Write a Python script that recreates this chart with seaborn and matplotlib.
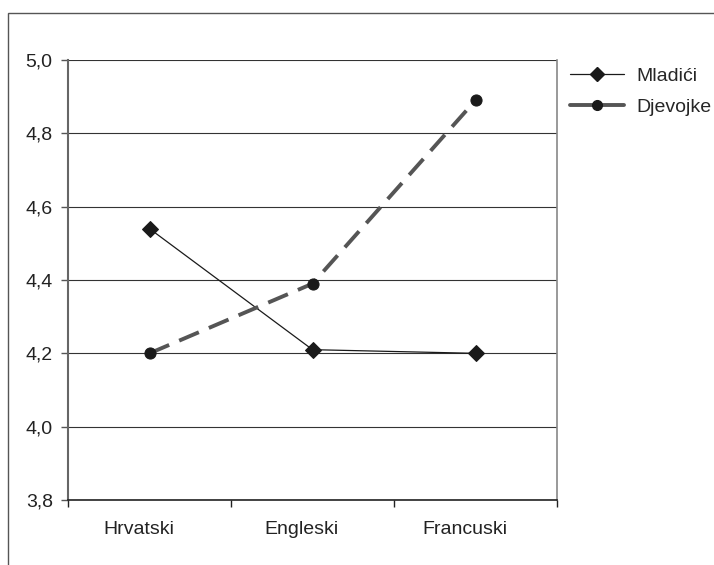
import matplotlib
matplotlib.use("Agg")
import matplotlib.pyplot as plt
import matplotlib.transforms as mtransforms
import seaborn as sns
import pandas as pd
from matplotlib.patches import Rectangle
from matplotlib.lines import Line2D
from matplotlib.ticker import FixedLocator, NullFormatter

# values
jezici = ["Hrvatski", "Engleski", "Francuski"]
mladici = [4.54, 4.21, 4.20]
djevojke = [4.20, 4.39, 4.89]
y_ticks = [3.8, 4.0, 4.2, 4.4, 4.6, 4.8, 5.0]

df = pd.DataFrame({
    "jezik": jezici * 2,
    "vrijednost": mladici + djevojke,
    "skupina": ["Mladići"] * 3 + ["Djevojke"] * 3,
})

sns.set_style("white")
plt.rcParams["font.family"] = ["Liberation Sans", "DejaVu Sans"]

fig = plt.figure(figsize=(7.14, 5.65), dpi=100)
ax = fig.add_axes([68 / 714, 65 / 565, (557 - 68) / 714, (500 - 60) / 565])

# outer frame of the figure (cut at right and bottom in the reference)
fig.patches.append(Rectangle((8 / 714, -0.1), 1.2, (553 + 56) / 565,
                             transform=fig.transFigure, fill=False,
                             edgecolor="#555555", linewidth=1.0))

sns.lineplot(data=df, x="jezik", y="vrijednost", hue="skupina", style="skupina",
             hue_order=["Mladići", "Djevojke"], style_order=["Mladići", "Djevojke"],
             palette={"Mladići": "#1a1a1a", "Djevojke": "#555555"},
             dashes={"Mladići": "", "Djevojke": (5.5, 2.8)},
             markers={"Mladići": "D", "Djevojke": "o"},
             sort=False, ax=ax, legend=False)

lines = ax.get_lines()
lines[0].set_linewidth(0.9)
lines[0].set_markersize(8.5)
lines[0].set_markerfacecolor("#1a1a1a")
lines[0].set_markeredgecolor("#1a1a1a")
lines[1].set_linewidth(2.8)
lines[1].set_markersize(8)
lines[1].set_markerfacecolor("#1a1a1a")
lines[1].set_markeredgecolor("#1a1a1a")

ax.set_xlim(-0.5, 2.5)
ax.set_ylim(3.8, 5.0)
ax.set_yticks(y_ticks)
ax.set_yticklabels([f"{v:.1f}".replace(".", ",") for v in y_ticks])
ax.yaxis.grid(True, color="#333333", linewidth=0.8)
ax.set_axisbelow(True)

ax.xaxis.set_minor_locator(FixedLocator([-0.5, 0.5, 1.5, 2.5]))
ax.xaxis.set_minor_formatter(NullFormatter())
ax.tick_params(axis="x", which="major", length=0, pad=15, labelsize=14, colors="#222222")
ax.tick_params(axis="x", which="minor", length=5, width=1, color="#222222", direction="out")
ax.tick_params(axis="y", length=5, width=1, color="#555555", direction="out",
               labelsize=14, labelcolor="#222222", pad=6)
ax.tick_params(left=True, bottom=True, which="both")

# category labels sit a little left of the category centre in the reference
shift = mtransforms.ScaledTranslation(-11 / 100, 0, fig.dpi_scale_trans)
for lbl in ax.get_xticklabels():
    lbl.set_transform(lbl.get_transform() + shift)

ax.set_xlabel("")
ax.set_ylabel("")
ax.spines["top"].set_visible(False)
ax.spines["left"].set_color("#666666")
ax.spines["left"].set_linewidth(1.5)
ax.spines["right"].set_color("#888888")
ax.spines["right"].set_linewidth(1.2)
ax.spines["bottom"].set_color("#222222")
ax.spines["bottom"].set_linewidth(1.2)

handles = [
    Line2D([], [], color="#1a1a1a", linewidth=0.9, marker="D", markersize=7),
    Line2D([], [], color="#555555", linewidth=2.8, marker="o", markersize=7,
           markerfacecolor="#1a1a1a", markeredgecolor="#1a1a1a"),
]
fig.legend(handles=handles, labels=["Mladići", "Djevojke"], loc="upper left",
           bbox_to_anchor=(570 / 714, 1 - 67 / 565), frameon=False, fontsize=14,
           handlelength=2.8, handletextpad=0.6, labelspacing=0.72,
           borderpad=0, borderaxespad=0)

fig.savefig("out.png", dpi=100)
